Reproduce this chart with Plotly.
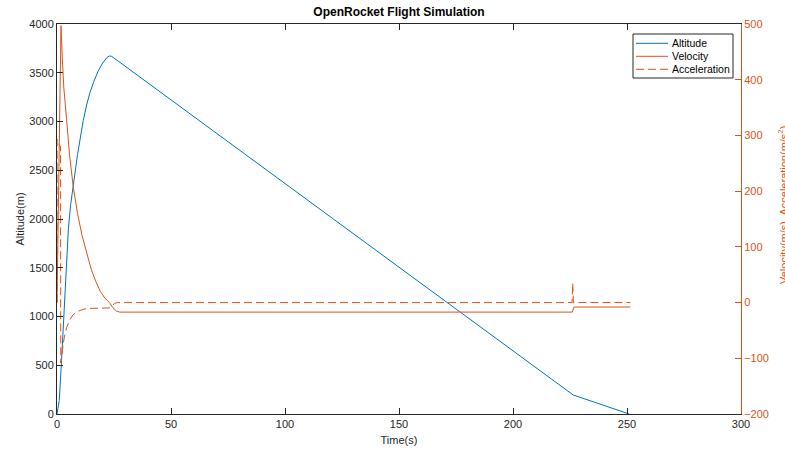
import plotly.graph_objects as go

# ---- data ----
alt_t = [0, 1, 2, 3, 4, 5, 6, 7, 8, 9, 10, 11.5, 13, 14.5, 16, 18, 20, 22, 23, 24, 226.4, 251]
alt_m = [0, 140, 550, 1030, 1470, 1900, 2150, 2330, 2500, 2660, 2800, 3010, 3170, 3300, 3400, 3515, 3600, 3658, 3672, 3668, 195, 0]

vel_t = [0, 1.75, 2.3, 3.0, 4.2, 5.5, 7.15, 9, 11, 13, 15, 17, 19, 21, 23, 24.5, 26, 27.5, 226.0, 226.8, 251.5]
vel_ms = [0, 497, 440, 385, 329, 265, 207, 160, 120, 88, 60, 38, 20, 8, 0, -9, -15, -17.1, -17.1, -8, -8]

acc_t = [0, 0.05, 0.8, 1.55, 1.65, 2.0, 2.5, 3.2, 4.2, 5.5, 7, 9, 11.5, 14, 17, 20, 23, 24.2, 25.2, 26.5, 225.9, 226.2, 226.5, 251.5]
acc_ms2 = [0, 293, 285, 280, -108, -100, -82, -62, -45, -32, -22, -16, -12, -10.5, -10, -9.8, -9.6, -6, -1.5, 0, 0, 35, 0, 0]

series_names = ["Altitude", "Velocity", "Acceleration"]
x_ticks = [0, 50, 100, 150, 200, 250, 300]
y_left_ticks = [0, 500, 1000, 1500, 2000, 2500, 3000, 3500, 4000]
y_right_ticks = [-200, -100, 0, 100, 200, 300, 400, 500]

BLUE = "#0072BD"
ORANGE = "#D95319"
DARK = "#262626"
FONT = "Liberation Sans, Arial, sans-serif"
DASH = "8px,4px"

W, H = 785, 455
ML, MR, MT, MB = 57, 44, 24, 41
PW, PH = W - ML - MR, H - MT - MB


def px(xp):
    return (xp - ML) / PW


def py(yp):
    return (H - MB - yp) / PH


fig = go.Figure()
fig.add_trace(go.Scatter(x=alt_t, y=alt_m, name=series_names[0], mode="lines",
                         line=dict(color=BLUE, width=1), yaxis="y"))
fig.add_trace(go.Scatter(x=vel_t, y=vel_ms, name=series_names[1], mode="lines",
                         line=dict(color=ORANGE, width=1), yaxis="y2"))
fig.add_trace(go.Scatter(x=acc_t, y=acc_ms2, name=series_names[2], mode="lines",
                         line=dict(color=ORANGE, width=1, dash=DASH), yaxis="y2"))

fig.update_layout(
    width=W, height=H,
    margin=dict(l=ML, r=MR, t=MT, b=MB, autoexpand=False),
    paper_bgcolor="white", plot_bgcolor="white",
    font=dict(family=FONT, size=11, color=DARK),
    title=dict(text="<b>OpenRocket Flight Simulation</b>", xref="paper", x=0.5, xanchor="center",
               yref="container", y=1 - 12 / H, yanchor="middle",
               font=dict(family=FONT, size=12, color="black")),
    xaxis=dict(range=[0, 300], tickvals=x_ticks, ticks="inside", ticklen=6, tickcolor=DARK,
               showline=True, linecolor=DARK, linewidth=1, mirror="ticks", automargin=False,
               showgrid=False, zeroline=False, tickfont=dict(size=11, color=DARK),
               title=dict(text="Time(s)", standoff=7, font=dict(size=11, color=DARK))),
    yaxis=dict(range=[0, 4000], tickvals=y_left_ticks, ticks="inside", ticklen=6, tickcolor=DARK,
               showline=True, linecolor=DARK, linewidth=1, mirror=False, automargin=False,
               showgrid=False, zeroline=False, tickfont=dict(size=11, color=DARK),
               title=dict(text="Altitude(m)", standoff=2, font=dict(size=11, color=DARK))),
    yaxis2=dict(range=[-200, 500], tickvals=y_right_ticks, ticks="inside", ticklen=6, tickcolor=ORANGE,
                overlaying="y", side="right", showline=True, linecolor=ORANGE, linewidth=1,
                automargin=False,
                showgrid=False, zeroline=False, tickfont=dict(size=11, color=ORANGE)),
    showlegend=False,
)

# right axis title (partly cut by the page edge, as in the reference)
fig.add_annotation(text="Velocity(m/s), Acceleration(m/s<sup>2</sup>)", textangle=-90,
                   xref="paper", yref="paper", x=px(783), y=py(205),
                   xanchor="center", yanchor="middle", showarrow=False,
                   font=dict(family=FONT, size=11, color=ORANGE))

# MATLAB-style compact legend box
fig.add_shape(type="rect", xref="paper", yref="paper", x0=px(633), x1=px(733), y0=py(78), y1=py(34),
              line=dict(color=DARK, width=1), fillcolor="white", layer="above")
legend_styles = [dict(color=BLUE, width=1), dict(color=ORANGE, width=1), dict(color=ORANGE, width=1, dash=DASH)]
for i, (name, st) in enumerate(zip(series_names, legend_styles)):
    yy = 43.3 + i * 13
    fig.add_shape(type="line", xref="paper", yref="paper", x0=px(636), x1=px(668), y0=py(yy), y1=py(yy),
                  line=st, layer="above")
    fig.add_annotation(text=name, xref="paper", yref="paper", x=px(670), y=py(yy),
                       xanchor="left", yanchor="middle", showarrow=False,
                       font=dict(family=FONT, size=10.5, color="black"))

fig.write_html("out.html", config={"displayModeBar": False},
               post_script="document.body.style.margin='0';document.body.style.overflow='hidden';")
